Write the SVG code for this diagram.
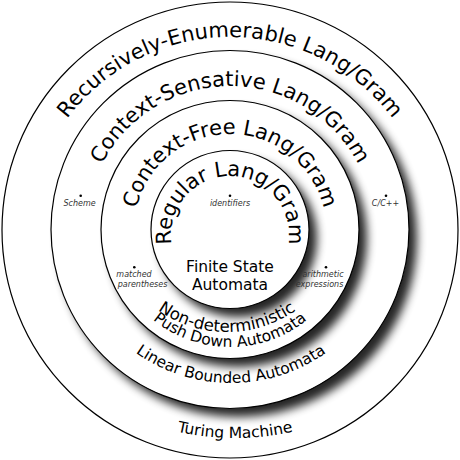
<svg xmlns="http://www.w3.org/2000/svg" xmlns:xlink="http://www.w3.org/1999/xlink" width="460" height="460" viewBox="0 0 460 460">
<style>
.ring{fill:#fff;stroke:#000;stroke-width:1.2}
.shadow{fill:#000;opacity:0.85}
.big{font-family:"DejaVu Sans","Liberation Sans",sans-serif;font-size:21px;fill:#000}
.mid{font-family:"DejaVu Sans","Liberation Sans",sans-serif;font-size:15.5px;fill:#000}
.small{font-family:"DejaVu Sans","Liberation Sans",sans-serif;font-size:8px;font-style:italic;fill:#333}
.dot{fill:#000}
</style>
<defs>
<filter id="blur" x="-20%" y="-20%" width="140%" height="140%"><feGaussianBlur stdDeviation="5"/></filter>
<path id="pRE" d="M230,443 A203,203 0 1,1 230,37 A203,203 0 1,1 230,443"/>
<path id="pCS" d="M230,374 A144,144 0 1,1 230,86 A144,144 0 1,1 230,374"/>
<path id="pCF" d="M230,326 A96,96 0 1,1 230,134 A96,96 0 1,1 230,326"/>
<path id="pRG" d="M230,294 A59,59 0 1,1 230,176 A59,59 0 1,1 230,294"/>
<path id="pND" d="M227,92 A120,120 0 1,0 227,332 A120,120 0 1,0 227,92"/>
<path id="pPD" d="M230,103 A122,122 0 1,0 230,347 A122,122 0 1,0 230,103"/>
<path id="pLB" d="M231,53 A165,165 0 1,0 231,383 A165,165 0 1,0 231,53"/>
<path id="pTM" d="M235,-98 A268,268 0 1,0 235,438 A268,268 0 1,0 235,-98"/>
</defs>

<g id="recursively-enumerable">
<circle class="ring" cx="230" cy="230" r="228"/>
<text class="big" text-anchor="middle"><textPath xlink:href="#pRE" href="#pRE" startOffset="50%">Recursively-Enumerable Lang/Gram</textPath></text>
<text class="mid" text-anchor="middle"><textPath xlink:href="#pTM" href="#pTM" startOffset="50%">Turing Machine</textPath></text>
</g>

<g id="context-sensitive">
<circle class="shadow" cx="238" cy="238" r="179" filter="url(#blur)"/>
<circle class="ring" cx="230" cy="229.5" r="179"/>
<text class="big" text-anchor="middle"><textPath xlink:href="#pCS" href="#pCS" startOffset="50%">Context-Sensative Lang/Gram</textPath></text>
<text class="mid" text-anchor="middle"><textPath xlink:href="#pLB" href="#pLB" startOffset="50%">Linear Bounded Automata</textPath></text>
</g>

<g id="context-free">
<circle class="shadow" cx="238" cy="238" r="129" filter="url(#blur)"/>
<circle class="ring" cx="230" cy="229.5" r="129"/>
<text class="big" text-anchor="middle"><textPath xlink:href="#pCF" href="#pCF" startOffset="50%">Context-Free Lang/Gram</textPath></text>
<text class="mid" style="font-size:16.5px" text-anchor="middle"><textPath xlink:href="#pND" href="#pND" startOffset="50%">Non-deterministic</textPath></text>
<text class="mid" text-anchor="middle"><textPath xlink:href="#pPD" href="#pPD" startOffset="50%">Push Down Automata</textPath></text>
</g>

<g id="regular">
<circle class="shadow" cx="238" cy="238" r="79" filter="url(#blur)"/>
<circle class="ring" cx="230" cy="229.5" r="79"/>
<text class="big" text-anchor="middle"><textPath xlink:href="#pRG" href="#pRG" startOffset="50%">Regular Lang/Gram</textPath></text>
<text class="mid" x="230" y="272" text-anchor="middle">Finite State</text>
<text class="mid" x="230" y="290" text-anchor="middle">Automata</text>
</g>

<g id="examples">
<circle class="dot" cx="230" cy="195.7" r="1.3"/>
<text class="small" x="230" y="206" text-anchor="middle">identifiers</text>
<circle class="dot" cx="80.7" cy="195.7" r="1.3"/>
<text class="small" x="79.5" y="206" text-anchor="middle">Scheme</text>
<circle class="dot" cx="386" cy="195.7" r="1.3"/>
<text class="small" x="385.5" y="206" text-anchor="middle">C/C++</text>
<circle class="dot" cx="134.3" cy="267.3" r="1.3"/>
<text class="small" x="134" y="277" text-anchor="middle">matched</text>
<text class="small" x="142.5" y="287" text-anchor="middle">parentheses</text>
<circle class="dot" cx="326" cy="267.3" r="1.3"/>
<text class="small" x="323" y="277" text-anchor="middle">arithmetic</text>
<text class="small" x="319.5" y="287" text-anchor="middle">expressions</text>
</g>

<g id="connectors"></g>
</svg>
